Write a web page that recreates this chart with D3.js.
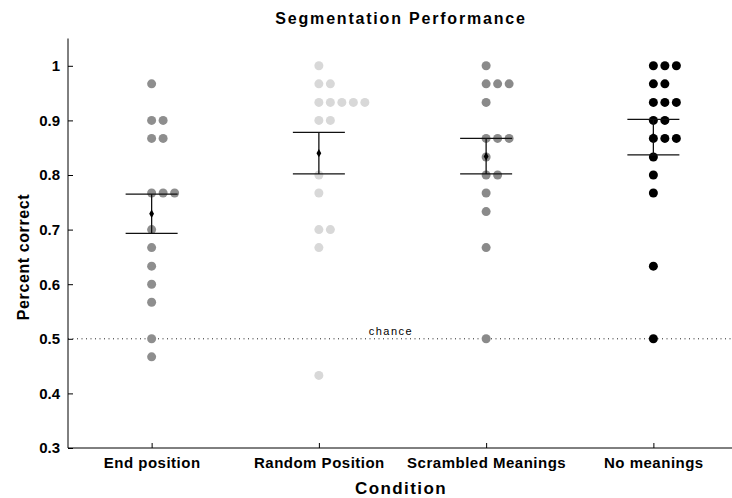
<!DOCTYPE html>
<html>
<head>
<meta charset="utf-8">
<style>
  body { margin: 0; background: #fff; }
  text { font-family: "Liberation Sans", Arial, sans-serif; }
</style>
</head>
<body>
<script src="https://d3js.org/d3.v7.min.js"></script>
<svg id="chart" width="732" height="498"></svg>
<script>
// conditions and individual participant scores (proportion correct)
const categories = ["End position", "Random Position", "Scrambled Meanings", "No meanings"];
const endPosition = [0.967, 0.9, 0.9, 0.867, 0.867, 0.767, 0.767, 0.767, 0.7, 0.667, 0.633, 0.6, 0.567, 0.5, 0.467];
const randomPosition = [1.0, 0.967, 0.967, 0.933, 0.933, 0.933, 0.933, 0.933, 0.9, 0.9, 0.8, 0.767, 0.7, 0.7, 0.667, 0.433];
const scrambledMeanings = [1.0, 0.967, 0.967, 0.967, 0.933, 0.867, 0.867, 0.867, 0.833, 0.8, 0.8, 0.767, 0.733, 0.667, 0.5];
const noMeanings = [1.0, 1.0, 1.0, 0.967, 0.967, 0.933, 0.933, 0.933, 0.9, 0.9, 0.867, 0.867, 0.867, 0.833, 0.8, 0.767, 0.633, 0.5];
// mean and +/- standard error
const means = [0.729, 0.840, 0.834, 0.870];
const errLow = [0.693, 0.802, 0.802, 0.837];
const errHigh = [0.765, 0.878, 0.867, 0.902];
const yTicks = [0.3, 0.4, 0.5, 0.6, 0.7, 0.8, 0.9, 1];
const chance = 0.5;

const series = [endPosition, randomPosition, scrambledMeanings, noMeanings];
const colors = ["#8e8e8e", "#d8d8d8", "#8a8a8a", "#000000"];

const svg = d3.select("#chart");
const x = d3.scaleLinear().domain([0.5, 4.5]).range([68, 737]);
const y = d3.scaleLinear().domain([0.3, 1.05]).range([448, 38.5]);

// axes, matlab style inward ticks
const yAxis = d3.axisLeft(y).tickValues(yTicks).tickSize(-5).tickPadding(8)
  .tickFormat(d => d === 1 ? "1" : d3.format(".1f")(d));
svg.append("g").attr("transform", "translate(68,0)").call(yAxis)
  .call(g => g.select(".domain").attr("d", `M0,${y(1.05)}V${y(0.3)}`))
  .call(g => g.selectAll("text").attr("font-size", 15).attr("font-weight", "bold")
    .attr("font-family", "Liberation Sans, Arial, sans-serif").attr("fill", "#000"));

const xAxis = d3.axisBottom(x).tickValues([1, 2, 3, 4]).tickSize(-5).tickPadding(9)
  .tickFormat(d => categories[d - 1]);
svg.append("g").attr("transform", "translate(0,448)").call(xAxis)
  .call(g => g.select(".domain").attr("d", `M68,0H737`))
  .call(g => g.selectAll("text").attr("font-size", 15).attr("font-weight", "bold")
    .attr("letter-spacing", 0.5)
    .attr("font-family", "Liberation Sans, Arial, sans-serif").attr("fill", "#000"));

// chance line
svg.append("line")
  .attr("x1", 68).attr("x2", 737).attr("y1", y(chance)).attr("y2", y(chance))
  .attr("stroke", "#222").attr("stroke-width", 1).attr("stroke-dasharray", "1,3.5");
svg.append("text").attr("x", 391).attr("y", y(chance) - 4)
  .attr("text-anchor", "middle").attr("font-size", 11).attr("letter-spacing", 1.5)
  .text("chance");

// dots: equal scores are put side by side going right
const dotStep = 11.5;
series.forEach((vals, i) => {
  const seen = {};
  const pts = vals.map(v => {
    const key = v.toFixed(3);
    seen[key] = (seen[key] || 0) + 1;
    return { v: v, k: seen[key] - 1 };
  });
  svg.append("g").selectAll("circle").data(pts).enter().append("circle")
    .attr("cx", d => x(i + 1) + d.k * dotStep)
    .attr("cy", d => y(d.v))
    .attr("r", 4.5)
    .attr("fill", colors[i]);
});

// error bars with mean marker
const eb = svg.append("g").selectAll("g").data(categories).enter().append("g");
eb.append("line")
  .attr("x1", (d, i) => x(i + 1)).attr("x2", (d, i) => x(i + 1))
  .attr("y1", (d, i) => y(errLow[i])).attr("y2", (d, i) => y(errHigh[i]))
  .attr("stroke", "#111").attr("stroke-width", 1.3);
eb.append("line")
  .attr("x1", (d, i) => x(i + 1) - 26).attr("x2", (d, i) => x(i + 1) + 26)
  .attr("y1", (d, i) => y(errHigh[i])).attr("y2", (d, i) => y(errHigh[i]))
  .attr("stroke", "#111").attr("stroke-width", 1.3);
eb.append("line")
  .attr("x1", (d, i) => x(i + 1) - 26).attr("x2", (d, i) => x(i + 1) + 26)
  .attr("y1", (d, i) => y(errLow[i])).attr("y2", (d, i) => y(errLow[i]))
  .attr("stroke", "#111").attr("stroke-width", 1.3);
eb.append("path")
  .attr("d", d3.symbol().type(d3.symbolDiamond).size(20))
  .attr("transform", (d, i) => `translate(${x(i + 1)},${y(means[i])})`)
  .attr("fill", "#000");

// titles
svg.append("text").attr("x", 401).attr("y", 24).attr("text-anchor", "middle")
  .attr("font-size", 16).attr("font-weight", "bold").attr("letter-spacing", 1.8)
  .text("Segmentation Performance");
svg.append("text").attr("x", 401).attr("y", 494).attr("text-anchor", "middle")
  .attr("font-size", 17).attr("font-weight", "bold").attr("letter-spacing", 1.4)
  .text("Condition");
svg.append("text").attr("transform", "translate(29,257) rotate(-90)").attr("text-anchor", "middle")
  .attr("font-size", 16).attr("font-weight", "bold").attr("letter-spacing", 0.6)
  .text("Percent correct");
</script>
</body>
</html>
